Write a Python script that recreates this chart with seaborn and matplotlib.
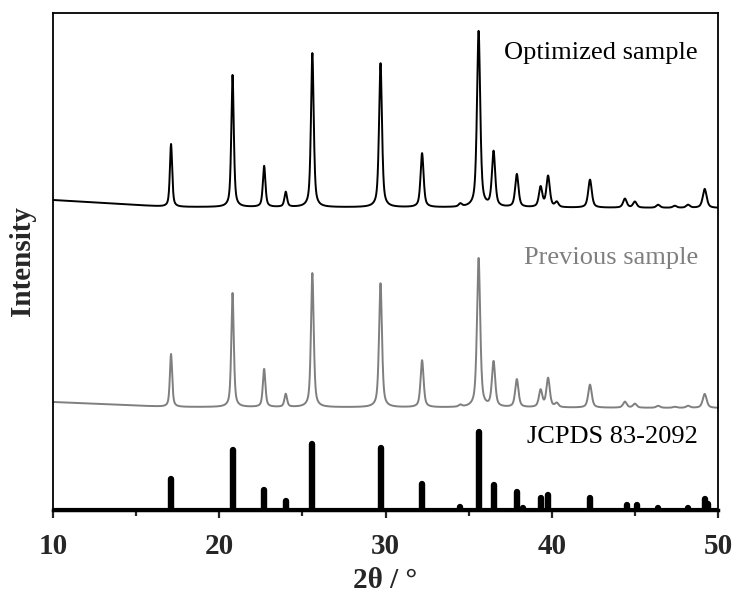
import numpy as np
import pandas as pd
import matplotlib
matplotlib.use("Agg")
import matplotlib.pyplot as plt
import seaborn as sns

# ---- data -------------------------------------------------------------
# Reflection positions (2θ, degrees) shared by the measured patterns
peak_pos = [17.1, 20.8, 22.7, 24.0, 25.6, 29.7, 32.2, 34.5, 35.6, 36.5,
            37.9, 39.33, 39.78, 40.3, 42.3, 44.4, 45.0, 46.4, 47.4, 48.2, 49.2]

# Peak heights above background (a.u.)
optimized_int = [63, 132, 41, 15, 154, 144, 54, 3, 176, 55,
                 33, 20, 31, 5, 28, 9, 6, 3, 2, 3, 19]
previous_int = [53, 114, 38, 13, 134, 124, 47, 2, 149, 45,
                28, 17, 29, 4, 23, 6, 4, 2, 1, 2, 14]

# Background level (a.u.) at a few 2θ values
bg_pos = [10.0, 17.0, 50.0]
optimized_bg = [8, 1, 0]
previous_bg = [6, 1, 0]

# Reference card JCPDS 83-2092: line positions and relative intensities (%)
ref_pos = [17.1, 20.8, 22.7, 24.0, 25.6, 29.7, 32.2, 34.5, 35.6, 36.5,
           37.9, 38.3, 39.35, 39.8, 42.3, 44.5, 45.1, 46.4, 48.2, 49.2, 49.38]
ref_int = [40, 77, 26, 11, 84, 79, 33, 4, 100, 32,
           23, 3, 15, 19, 16, 7, 6, 3, 3, 14, 8]

x_ticks = [10, 20, 30, 40, 50]
labels = ["Optimized sample", "Previous sample", "JCPDS 83-2092"]


# ---- profile ----------------------------------------------------------
def pattern(tt, pos, heights, bgx, bgy, eta=0.6):
    """Pseudo-Voigt peaks on a background; peak width grows with angle."""
    y = np.interp(tt, bgx, bgy).astype(float)
    for p, h in zip(pos, heights):
        fwhm = 0.14 + 0.0035 * (p - 10)
        d = (tt - p) / (fwhm / 2)
        lor = 1.0 / (1.0 + d ** 2)
        gau = np.exp(-np.log(2) * d ** 2)
        y += h * (eta * lor + (1 - eta) * gau)
    return y


two_theta = np.linspace(10, 50, 4001)
df = pd.DataFrame({
    "two_theta": two_theta,
    "optimized": pattern(two_theta, peak_pos, optimized_int, bg_pos, optimized_bg) + 302,
    "previous": pattern(two_theta, peak_pos, previous_int, bg_pos, previous_bg) + 102,
})

# ---- figure -----------------------------------------------------------
sns.set_theme(style="ticks")
plt.rcParams["font.family"] = ["Liberation Serif", "DejaVu Serif"]

fig = plt.figure(figsize=(7.36, 5.96), dpi=100)
ax = fig.add_axes([53 / 736, 86 / 596, 665 / 736, 497 / 596])

sns.lineplot(data=df, x="two_theta", y="optimized", ax=ax,
             color="black", linewidth=1.4)
sns.lineplot(data=df, x="two_theta", y="previous", ax=ax,
             color="#7f7f7f", linewidth=1.4)

# Reference stick pattern
scale = 0.78
sticks = ax.vlines(ref_pos, 0, np.array(ref_int) * scale, color="black",
                   linewidth=4.6)
sticks.set_capstyle("round")
ax.axhline(0, color="black", linewidth=3)

ax.set_xlim(10, 50)
ax.set_ylim(0, 497)
ax.set_xticks(x_ticks)
ax.set_xticks(np.arange(15, 50, 10), minor=True)
ax.set_yticks([])
ax.tick_params(axis="x", which="major", direction="out", length=5.5,
               width=1.6, pad=11, labelsize=21)
ax.tick_params(axis="x", which="minor", direction="out", length=4,
               width=1.6)
for lab in ax.get_xticklabels():
    lab.set_fontweight("bold")

for side in ["left", "right", "top"]:
    ax.spines[side].set_linewidth(1.3)
    ax.spines[side].set_color("black")
ax.spines["bottom"].set_linewidth(2.5)
ax.spines["bottom"].set_color("black")

ax.set_xlabel("2θ / °", fontsize=21, fontweight="bold", labelpad=5)
ax.set_ylabel("Intensity", fontsize=21, fontweight="bold", labelpad=12)

ax.text(0.97, 0.92, labels[0], transform=ax.transAxes, ha="right",
        va="center", fontsize=19, color="black")
ax.text(0.97, 0.507, labels[1], transform=ax.transAxes, ha="right",
        va="center", fontsize=19, color="#7f7f7f")
ax.text(0.97, 0.147, labels[2], transform=ax.transAxes, ha="right",
        va="center", fontsize=19, color="black")

fig.savefig("out.png", dpi=100)
